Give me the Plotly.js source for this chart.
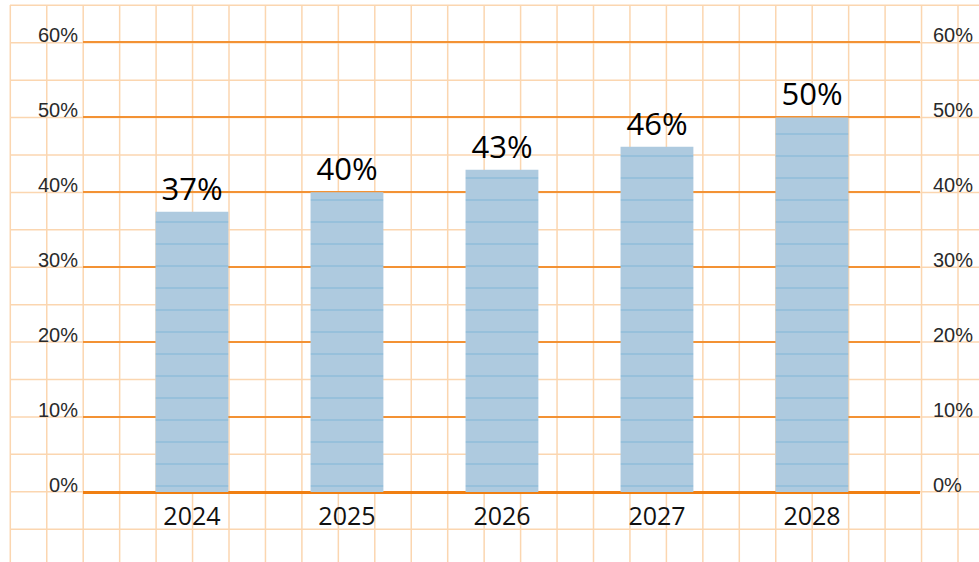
<!DOCTYPE html>
<html>
<head>
<meta charset="utf-8">
<script src="https://cdn.plot.ly/plotly-3.0.1.min.js"></script>
<style>html,body{margin:0;padding:0;background:#fff}#chart{width:979px;height:562px}</style>
</head>
<body>
<div id="chart"></div>
<script>
// Data
const years = ["2024", "2025", "2026", "2027", "2028"];
const shares = [0.374, 0.40, 0.43, 0.461, 0.50];
const shareLabels = ["37%", "40%", "43%", "46%", "50%"];
const yTickVals = [0, 0.1, 0.2, 0.3, 0.4, 0.5, 0.6];
const yTickText = ["0%", "10%", "20%", "30%", "40%", "50%", "60%"];

// Layout geometry (pixels)
const W = 979, H = 562;
const M = {l: 83, r: 59, t: 35, b: 70};
const pw = W - M.l - M.r, ph = H - M.t - M.b;
const px2x = p => (p - M.l) / pw;
const py2y = p => (H - M.b - p) / ph;

// graph-paper background
const shapes = [];
const paperColor = "#fbd6b0";
for (let k = 0; k < 27; k++) {
  const xp = 10.3 + 36.45 * k;
  if (xp > W) break;
  shapes.push({type: "line", xref: "paper", yref: "paper", layer: "below",
    x0: px2x(xp), x1: px2x(xp), y0: py2y(5), y1: py2y(H),
    line: {color: paperColor, width: 1.5}});
}
for (let k = 0; k < 16; k++) {
  const yp = 5.3 + 37.42 * k;
  if (yp > H) break;
  shapes.push({type: "line", xref: "paper", yref: "paper", layer: "below",
    x0: px2x(10), x1: px2x(W), y0: py2y(yp), y1: py2y(yp),
    line: {color: paperColor, width: 1.5}});
}

const traces = [
  {
    type: "bar",
    x: years,
    y: shares,
    text: shareLabels,
    texttemplate: "%{text}",
    textposition: "outside",
    cliponaxis: false,
    textfont: {family: "Open Sans, sans-serif", size: 31, color: "#000", weight: 500},
    width: 0.47,
    marker: {
      color: "#aecadf",
      line: {width: 0},
      pattern: {shape: "-", fgcolor: "#5aa3cd", bgcolor: "#aecadf", size: 22, solidity: 0.05, fillmode: "overlay"}
    },
    hoverinfo: "skip",
    showlegend: false
  },
  {
    type: "scatter",
    x: years,
    y: shares,
    yaxis: "y2",
    mode: "markers",
    marker: {opacity: 0},
    hoverinfo: "skip",
    showlegend: false
  }
];

const tickFontY = {family: "Liberation Sans, Arial, sans-serif", size: 20, color: "#2a2a2a"};

const layout = {
  width: W, height: H,
  margin: M,
  paper_bgcolor: "#ffffff",
  plot_bgcolor: "rgba(0,0,0,0)",
  showlegend: false,
  bargap: 0.53,
  xaxis: {
    type: "category",
    range: [-0.703, 4.697],
    showgrid: false,
    zeroline: false,
    showline: false,
    ticks: "",
    tickfont: {family: "Open Sans, sans-serif", size: 25, color: "#111"},
    ticklabelstandoff: 7
  },
  yaxis: {
    range: [0, 0.61],
    tickvals: yTickVals,
    ticktext: yTickText,
    showgrid: true,
    gridcolor: "#f39234",
    gridwidth: 2,
    zeroline: true,
    zerolinecolor: "#f07f12",
    zerolinewidth: 3,
    showline: false,
    ticks: "",
    tickfont: tickFontY,
    ticklabelstandoff: 4,
    ticklabelshift: -7
  },
  yaxis2: {
    overlaying: "y",
    side: "right",
    range: [0, 0.61],
    tickvals: yTickVals,
    ticktext: yTickText,
    showgrid: false,
    zeroline: false,
    showline: false,
    ticks: "",
    tickfont: tickFontY,
    ticklabelstandoff: 12,
    ticklabelshift: -7
  },
  shapes: shapes
};

Plotly.newPlot("chart", traces, layout, {displayModeBar: false, staticPlot: true});
</script>
</body>
</html>
